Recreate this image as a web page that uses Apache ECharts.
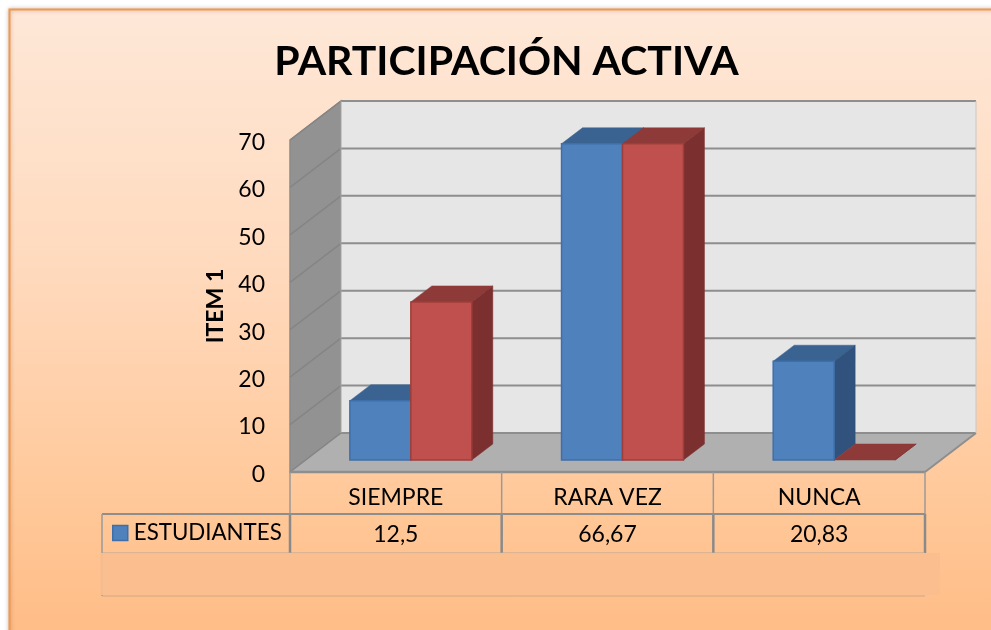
<!DOCTYPE html>
<html><head><meta charset="utf-8">
<style>html,body{margin:0;padding:0;background:#fff}#c{width:991px;height:630px}</style>
<script src="https://cdn.jsdelivr.net/npm/echarts@6/dist/echarts.min.js"></script>
</head><body><div id="c"></div>
<script>
const titleText = 'PARTICIPACIÓN ACTIVA';
const yAxisName = 'ITEM 1';
const categories = ['SIEMPRE', 'RARA VEZ', 'NUNCA'];
const yTicks = [0, 10, 20, 30, 40, 50, 60, 70];
const seriesBlueName = 'ESTUDIANTES';
const seriesBlue = [12.5, 66.67, 20.83];
const seriesRedName = 'Serie 2';
const seriesRed = [33.33, 66.67, 0];

const FONT = 'Lato';
const WALL_DX = 51, WALL_DY = -39;   // depth of the whole 3D box
const BAR_OFF_X = 15, BAR_OFF_Y = -12; // bars sit inside the box
const BAR_DX = 21, BAR_DY = -16;     // depth of each bar
const BAR_FRAC = 0.288;
const GRID = '#8E8E8E';

function poly(points, fill, stroke, lw) {
  return {type:'polygon', shape:{points}, style:{fill, stroke:stroke||fill, lineWidth:lw===undefined?1:lw}};
}
function seg(x1,y1,x2,y2,stroke,lw) {
  return {type:'line', shape:{x1,y1,x2,y2}, style:{stroke, lineWidth:lw||2}};
}

function renderWalls(params, api) {
  const band = api.size([1,0])[0];
  const xl = api.coord([0,0])[0]-band/2, xr = api.coord([categories.length-1,0])[0]+band/2;
  const y0 = api.coord([0,0])[1], yT = api.coord([0,yTicks[yTicks.length-1]])[1];
  const kids = [];
  kids.push(poly([[xl,y0],[xl+WALL_DX,y0+WALL_DY],[xl+WALL_DX,yT+WALL_DY],[xl,yT]],'#929292','#8A8A8A',1.5));
  kids.push({type:'rect',shape:{x:xl+WALL_DX,y:yT+WALL_DY,width:xr-xl,height:y0-yT},style:{fill:'#E6E6E6'}});
  kids.push(poly([[xl,y0],[xr,y0],[xr+WALL_DX,y0+WALL_DY],[xl+WALL_DX,y0+WALL_DY]],'#B0B0B0','#B0B0B0',0));
  yTicks.forEach(t=>{
    const y = api.coord([0,t])[1];
    kids.push(seg(xl+WALL_DX,y+WALL_DY,xr+WALL_DX,y+WALL_DY,GRID,2));
    kids.push(seg(xl,y,xl+WALL_DX,y+WALL_DY,'#858585',1.5));
  });
  kids.push(seg(xl,y0,xr,y0,GRID,2.5));
  kids.push(seg(xr,y0,xr+WALL_DX,y0+WALL_DY,GRID,2));
  kids.push(seg(xr+WALL_DX,yT+WALL_DY,xr+WALL_DX,y0+WALL_DY,'#C8C8C8',1));
  kids.push(seg(xl+WALL_DX,yT+WALL_DY,xl+WALL_DX,y0+WALL_DY,'#A6A6A6',1));
  return {type:'group',children:kids};
}

function makeBar(side, front, top, dark, edge) {
  return function(params, api) {
    const band = api.size([1,0])[0], w = band*BAR_FRAC;
    const p = api.coord([api.value(0), api.value(1)]);
    const b = api.coord([api.value(0), 0]);
    const cx = p[0]+BAR_OFF_X;
    const x0 = side<0 ? cx-w : cx, x1 = x0+w;
    const yt = p[1]+BAR_OFF_Y, yb = b[1]+BAR_OFF_Y;
    const kids = [
      poly([[x0,yt],[x1,yt],[x1+BAR_DX,yt+BAR_DY],[x0+BAR_DX,yt+BAR_DY]],top,top,0.5),
      poly([[x1,yt],[x1+BAR_DX,yt+BAR_DY],[x1+BAR_DX,yb+BAR_DY],[x1,yb]],dark,dark,0.5)
    ];
    if (yb-yt>0.5) kids.push({type:'rect',shape:{x:x0,y:yt,width:w,height:yb-yt},style:{fill:front,stroke:edge,lineWidth:1.5}});
    return {type:'group',children:kids};
  };
}

function renderTable(params, api) {
  const band = api.size([1,0])[0];
  const xl = api.coord([0,0])[0]-band/2;
  const y0 = api.coord([0,0])[1];
  const rowA = y0+42, rowB = y0+81, rowC = y0+124, xLeg = xl-188;
  const kids = [];
  for (let i=0;i<=categories.length;i++){
    const x = xl+i*band;
    kids.push(seg(x,y0,x,rowA,'#9A9A9A',1.5));
    kids.push(seg(x,rowA,x,rowB,'#8A8A8A',2.5));
  }
  kids.push(seg(xLeg,rowA,xl+categories.length*band,rowA,'#8E8E8E',2));
  kids.push(seg(xLeg,rowA,xLeg,rowC,'#9A9A9A',1.5));
  kids.push(seg(xLeg,rowB,xl+categories.length*band,rowB,'#B5A594',1));
  kids.push(seg(xLeg,rowC,xl+categories.length*band,rowC,'#D0A684',1));
  seriesBlue.forEach((v,i)=>{
    kids.push({type:'text',style:{text:String(v).replace('.',','),x:api.coord([i,0])[0],y:y0+63,align:'center',verticalAlign:'middle',fill:'#000',font:'23px '+FONT}});
  });
  return {type:'group',children:kids};
}

const chart = echarts.init(document.getElementById('c'),null,{renderer:'canvas'});
chart.setOption({
  animation:false,
  backgroundColor:'#fff',
  title:{text:titleText,left:501.5,top:36,textAlign:'center',
    textStyle:{fontFamily:FONT,fontWeight:'bold',fontSize:41,color:'#000'}},
  legend:{data:[{name:seriesBlueName,icon:'rect',itemStyle:{color:'#4F81BD',borderColor:'#3F6FA8',borderWidth:1.5}}],
    left:107,top:517,itemWidth:15,itemHeight:15,
    textStyle:{fontFamily:FONT,fontSize:22.3,color:'#000',padding:[0,0,0,1]}},
  grid:{left:290,right:66,top:140,bottom:158,containLabel:false},
  xAxis:{type:'category',data:categories,axisLine:{show:false},axisTick:{show:false},
    axisLabel:{margin:14,fontFamily:FONT,fontSize:23,color:'#000'}},
  yAxis:{type:'value',min:0,max:70,interval:10,name:yAxisName,nameLocation:'middle',nameGap:63,nameRotate:90,
    nameTextStyle:{fontFamily:FONT,fontWeight:'bold',fontSize:23,color:'#000'},
    axisLine:{show:false},axisTick:{show:false},splitLine:{show:false},
    axisLabel:{margin:25,fontFamily:FONT,fontSize:23,color:'#000',verticalAlign:'top',lineHeight:5}},
  graphic:{elements:[
    {type:'rect',z:-10,silent:true,shape:{x:9.5,y:9.5,width:990,height:630},
      style:{stroke:'#F79646',lineWidth:2,shadowBlur:4,shadowColor:'rgba(0,0,0,.25)',
        fill:new echarts.graphic.LinearGradient(0,0,0,1,[
          {offset:0,color:'#FEE8D8'},{offset:.45,color:'#FFD8BA'},{offset:.8,color:'#FFC797'},{offset:1,color:'#FFBC86'}])}},
    {type:'rect',z:100,silent:true,shape:{x:100,y:553,width:840,height:42},
      style:{fill:'rgba(251,190,142,0.92)'}}
  ]},
  series:[
    {type:'custom',name:'walls',z:1,silent:true,renderItem:renderWalls,data:[[0,0]],encode:{x:0,y:1}},
    {type:'custom',name:seriesBlueName,z:2,renderItem:makeBar(-1,'#4F81BD','#3A6391','#30527C','#3F6FA8'),
      itemStyle:{color:'#4F81BD'},data:seriesBlue.map((v,i)=>[i,v]),encode:{x:0,y:1}},
    {type:'custom',name:seriesRedName,z:3,renderItem:makeBar(1,'#C0504D','#8E3A38','#7C2F2F','#9E3E3B'),
      itemStyle:{color:'#C0504D'},data:seriesRed.map((v,i)=>[i,v]),encode:{x:0,y:1}},
    {type:'custom',name:'tabla',z:4,silent:true,renderItem:renderTable,data:[[0,0]],encode:{x:0,y:1}}
  ]
});
</script></body></html>
